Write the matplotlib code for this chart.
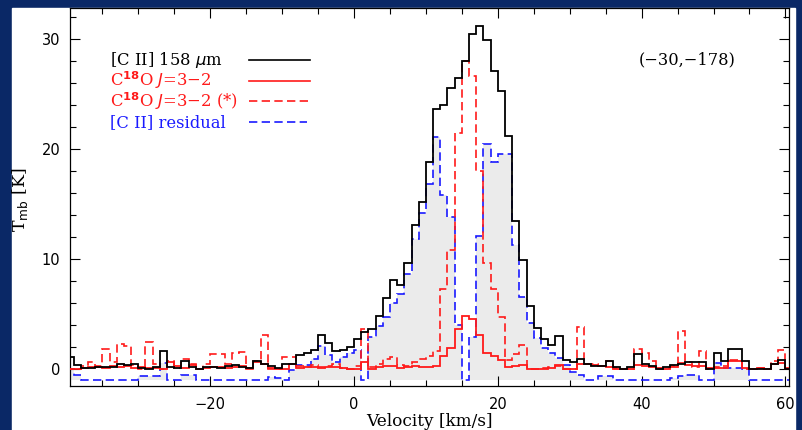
import numpy as np
import matplotlib
matplotlib.use("Agg")
import matplotlib.pyplot as plt
from matplotlib.patches import Rectangle
from matplotlib.ticker import MultipleLocator

# channel edges, 1 km/s wide, from -40 to 61 km/s
v_edges = np.arange(-40, 62, 1)

# [C II] 158 um spectrum (K), one value per channel
cii = [1.05, 0.4, 0.05, 0.05, 0.2, 0.15, 0.2, 0.5, 0.35, 0.45,
       0.05, 0.0, 0.2, 1.65, 0.2, 0.1, 0.7, 0.2, 0.0, 0.2,
       0.2, 0.1, 0.3, 0.4, 0.2, 0.1, 0.75, 0.5, 0.3, 0.1,
       0.5, 0.5, 1.25, 1.45, 1.75, 3.05, 2.4, 1.6, 1.7, 2.0,
       2.7, 3.35, 3.65, 4.8, 6.45, 8.07, 7.6, 9.65, 13.1, 15.2,
       18.8, 23.6, 24.0, 25.5, 26.4, 27.95, 30.4, 31.15, 29.9, 27.05,
       25.2, 21.15, 13.45, 9.9, 5.75, 3.7, 2.75, 2.15, 3.0, 0.8,
       0.65, 0.95, 0.45, 0.3, 0.3, 0.75, 0.2, 0.0, 0.2, 1.4,
       0.45, 0.3, 0.0, 0.2, 0.35, 0.5, 0.65, 0.6, 0.65, 0.0,
       1.5, 0.7, 1.8, 1.8, 0.7, 0.0, 0.0, 0.0, 0.5, 0.8,
       0.0]

# C18O J=3-2
c18o = [0.0, 0.0, 0.1, 0.15, 0.2, 0.1, 0.3, 0.15, 0.25, 0.1,
        0.15, 0.05, 0.1, 0.0, 0.65, 0.3, 0.1, 0.4, 0.0, 0.05,
        0.15, 0.2, 0.1, 0.2, 0.25, 0.1, 0.65, 0.45, 0.1, 0.0,
        0.0, 0.5, 0.1, 0.15, 0.2, 0.1, 0.15, 0.2, 0.05, 0.0,
        0.0, 0.65, 0.0, 0.15, 0.3, 0.3, 0.05, 0.2, 0.25, 0.2,
        0.2, 0.3, 1.2, 1.95, 3.65, 4.8, 4.55, 3.1, 1.5, 1.2,
        0.85, 0.15, 0.3, 0.35, 0.0, 0.0, 0.0, 0.05, 0.35, 0.0,
        0.0, 0.45, 0.45, 0.4, 0.3, 0.2, 0.0, 0.0, 0.0, 0.4,
        0.25, 0.2, 0.05, 0.0, 0.2, 0.55, 0.35, 0.3, 0.3, 0.05,
        0.05, 0.1, 0.7, 0.7, 0.1, 0.0, 0.05, 0.0, 0.5, 0.55,
        0.1]

# C18O J=3-2 scaled (*)
c18o_scaled = [0.0, 0.0, 0.3, 0.6, 0.3, 1.8, 0.6, 2.25, 2.1, 0.4,
               0.0, 2.45, 0.5, 0.0, 0.75, 0.1, 0.95, 0.5, 0.0, 0.5,
               1.4, 1.35, 0.5, 1.5, 1.55, 0.0, 0.7, 3.1, 0.0, 0.0,
               1.1, 1.1, 0.3, 0.2, 0.4, 0.2, 0.3, 0.5, 0.1, 0.0,
               0.3, 3.65, 0.2, 0.5, 0.9, 1.1, 0.4, 0.3, 0.6, 0.9,
               1.15, 1.6, 7.3, 10.8, 21.45, 27.95, 26.6, 18.0, 9.6, 7.3,
               4.7, 0.8, 1.4, 2.15, 0.0, 0.0, 0.1, 0.2, 0.3, 0.0,
               0.0, 3.8, 0.45, 0.5, 0.3, 0.75, 0.1, 0.0, 0.0, 1.8,
               1.5, 0.75, 0.0, 0.1, 0.3, 3.45, 0.6, 0.2, 1.65, 0.0,
               0.2, 0.3, 0.8, 0.8, 0.0, 0.0, 0.1, 0.0, 0.75, 1.75,
               0.0]

# [C II] residual
cii_resid = [0.0, -0.55, -0.95, -0.95, -0.95, -0.95, -0.95, -0.95, -0.95, -0.95,
             -0.63, -0.63, -0.63, 0.57, -0.95, -0.95, -0.55, -0.55, -0.95, -0.95,
             -0.95, -0.95, -0.95, -0.95, -0.95, -0.95, -0.95, -0.95, -0.7, -0.8,
             -0.95, -0.1, 0.35, 0.4, 0.9, 2.08, 1.3, 0.6, 1.05, 1.5,
             1.72, -0.95, 2.9, 3.9, 4.68, 6.0, 6.8, 8.67, 11.8, 14.2,
             16.8, 21.06, 15.8, 13.8, 4.0, -0.95, 2.9, 12.1, 20.46, 18.8,
             19.55, 19.55, 11.3, 6.5, 4.2, 2.8, 1.9, 1.5, 1.0, 0.4,
             -0.25, -0.55, -0.95, -0.95, -0.6, -0.6, -0.95, -0.95, -0.95, -0.95,
             -0.95, -0.95, -0.95, -0.95, -0.8, -0.6, -0.5, -0.5, -0.95, -0.95,
             0.55, 0.05, 0.1, 0.1, 0.0, -0.95, -0.95, -0.95, -0.95, -0.95,
             -0.95]

position = "(\u221230,\u2212178)"

serif = ["DejaVu Serif"]
dash = (0, (5, 2.6))
red = "#ff1a1a"
blue = "#1a1aff"

fig = plt.figure(figsize=(8.03, 4.30), dpi=100, facecolor="#0a2866")
fig.patches.append(Rectangle((12 / 803, 0), 783 / 803, 422 / 430,
                             transform=fig.transFigure, color="white", zorder=-5))

ax = fig.add_axes([70 / 803, 44 / 430, 719 / 803, 378 / 430])
ax.set_zorder(2)
ax.set_facecolor("white")

# shaded residual emission, down to the plotting floor
ax.stairs(cii_resid, v_edges, baseline=-1.0, fill=True, color="#ebebeb", lw=0, zorder=1)

ax.stairs(cii, v_edges, baseline=None, color="black", lw=1.3, zorder=4)
ax.stairs(c18o, v_edges, baseline=None, color=red, lw=1.3, zorder=3)
ax.stairs(c18o_scaled, v_edges, baseline=None, color=red, lw=1.2,
          linestyle=dash, zorder=3)
ax.stairs(cii_resid, v_edges, baseline=None, color=blue, lw=1.2,
          linestyle=dash, zorder=2)

ax.set_xlim(-39.5, 60.5)
ax.set_ylim(-1.54, 32.78)

ax.xaxis.set_major_locator(MultipleLocator(20))
ax.xaxis.set_minor_locator(MultipleLocator(5))
ax.yaxis.set_major_locator(MultipleLocator(10))
ax.yaxis.set_minor_locator(MultipleLocator(2))
ax.tick_params(which="both", direction="in", top=True, right=True,
               width=0.8, labelsize=10.5)
ax.tick_params(which="major", length=7)
ax.tick_params(which="minor", length=4)
ax.tick_params(axis="x", pad=8)
ax.tick_params(axis="y", pad=7)
for s in ax.spines.values():
    s.set_linewidth(0.9)

# legend drawn by hand: label on the left, line sample on the right
rows = [
    (r"[C II] 158 $\mu$m", "black", "-"),
    (r"C$^{\mathbf{18}}$O $J$=3$-$2", red, "-"),
    (r"C$^{\mathbf{18}}$O $J$=3$-$2 (*)", red, dash),
    ("[C II] residual", blue, dash),
]
row_y = [0.862, 0.808, 0.753, 0.698]
for (label, col, ls), yy in zip(rows, row_y):
    ax.text(0.056, yy, label, color=col, fontsize=11.8, family=serif,
            transform=ax.transAxes, va="center", ha="left")
    x1 = 0.334 if col != blue else 0.330
    ax.plot([0.249, x1], [yy, yy], color=col, lw=1.2, linestyle=ls,
            transform=ax.transAxes)

ax.text(0.859, 0.862, position, fontsize=11.7, family=serif,
        transform=ax.transAxes, va="center", ha="center")

fig.text(429.5 / 803, 1 - 421 / 430, "Velocity [km/s]", fontsize=12.2,
         family=serif, ha="center", va="center")
fig.text(20 / 803, 1 - 200 / 430, r"T$_{\rm mb}$ [K]", fontsize=12.5,
         family=serif, ha="center", va="center", rotation=90)

fig.savefig("out.png", dpi=100, facecolor=fig.get_facecolor())
